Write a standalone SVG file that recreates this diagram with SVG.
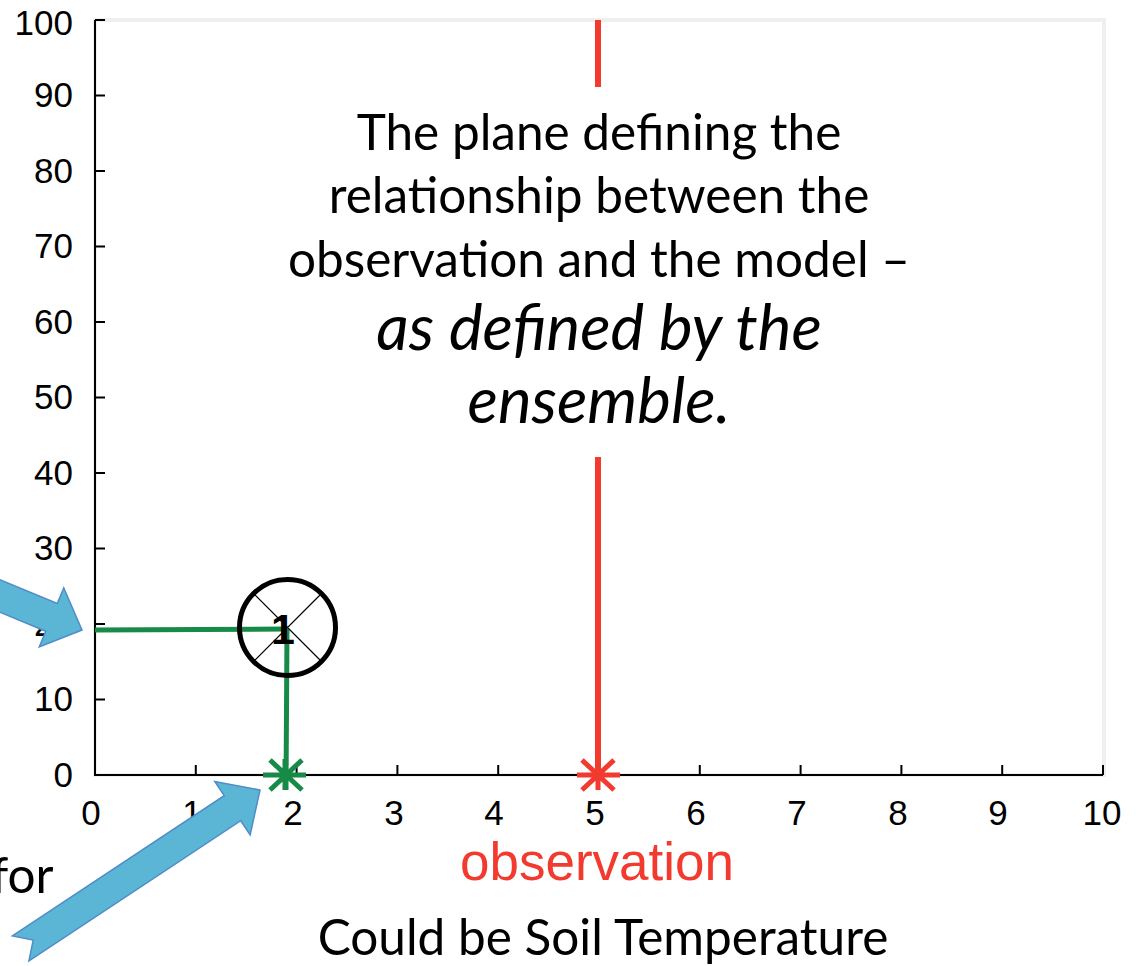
<svg xmlns="http://www.w3.org/2000/svg" width="1140" height="966" viewBox="0 0 1140 966">
<defs>
<style>
.tick{font-family:"Liberation Sans",Arial,sans-serif;font-size:35px;fill:#000}
.ty{text-anchor:end}
.tx{text-anchor:middle}
.cal{font-family:Lato,"Open Sans",sans-serif;fill:#000;text-anchor:middle}
.body{font-size:49.5px}
.ital{font-size:63.5px;font-style:italic}
.ax{stroke:#000;stroke-width:2;fill:none}
.frame{stroke:#efefef;stroke-width:4;fill:none}
.red{stroke:#f23a2f;stroke-width:6;fill:none}
.redast{stroke:#f23a2f;stroke-width:5;fill:none}
.grn{stroke:#178a47;stroke-width:5;fill:none}
.arrow{fill:#5bb6d5;stroke:#4f8cc9;stroke-width:1.5}
</style>
</defs>
<rect width="1140" height="966" fill="#fff"/>
<g id="plot">
<rect class="frame" x="95" y="20" width="1009" height="755"/>
<line class="ax" x1="95" y1="20" x2="95" y2="776"/>
<line class="ax" x1="94" y1="775" x2="1103" y2="775"/>
<path class="ax" d="M95 20h10M95 95.5h10M95 171h10M95 246.5h10M95 322h10M95 397.5h10M95 473h10M95 548.5h10M95 624h10M95 699.5h10M95 775h10"/>
<path class="ax" d="M195.8 775v-10M296.6 775v-10M397.4 775v-10M498.2 775v-10M599 775v-10M699.8 775v-10M800.6 775v-10M901.4 775v-10M1002.2 775v-10M1103 775v-10"/>
<g class="tick ty">
<text x="73" y="35">100</text>
<text x="73" y="107">90</text>
<text x="73" y="183">80</text>
<text x="73" y="258">70</text>
<text x="73" y="334">60</text>
<text x="73" y="409">50</text>
<text x="73" y="485">40</text>
<text x="73" y="560">30</text>
<text x="73" y="636">20</text>
<text x="73" y="711">10</text>
<text x="73" y="787">0</text>
</g>
<g class="tick tx">
<text x="91" y="825">0</text>
<text x="192" y="825">1</text>
<text x="293" y="825">2</text>
<text x="394" y="825">3</text>
<text x="494" y="825">4</text>
<text x="595" y="825">5</text>
<text x="696" y="825">6</text>
<text x="797" y="825">7</text>
<text x="898" y="825">8</text>
<text x="998" y="825">9</text>
<text x="1102" y="825">10</text>
</g>
</g>
<g id="connectors">
<line class="red" x1="598" y1="20" x2="598" y2="87"/>
<line class="red" x1="598" y1="457" x2="598" y2="775"/>
<line class="grn" x1="95" y1="630" x2="287" y2="629"/>
<line class="grn" x1="287" y1="629" x2="286" y2="790"/>
</g>
<g id="observation-point">
<path class="redast" d="M577 775h43M598 759v31M582 760l32 30M614 760l-32 30"/>
</g>
<g id="model-point">
<path class="grn" d="M263 775h43M285 759v31M270 760l32 30M302 760l-32 30"/>
</g>
<g id="ensemble-member">
<circle cx="287.5" cy="627.5" r="48" fill="none" stroke="#000" stroke-width="5"/>
<path d="M254 594l67 67M321 594l-67 67" stroke="#000" stroke-width="1.2"/>
<text x="283" y="644" font-family="Liberation Sans,Arial,sans-serif" font-weight="bold" font-size="43" text-anchor="middle">1</text>
</g>
<g id="caption">
<text class="cal body" x="599" y="150">The plane defining the</text>
<text class="cal body" x="599" y="213">relationship between the</text>
<text class="cal body" x="599" y="277">observation and the model –</text>
<text class="cal ital" x="599" y="350">as defined by the</text>
<text class="cal ital" x="599" y="423">ensemble.</text>
</g>
<g id="obs-label">
<text x="597" y="880" font-family="Liberation Sans,Arial,sans-serif" font-size="53" fill="#f23a2f" text-anchor="middle">observation</text>
</g>
<g id="axis-label">
<text class="cal body" x="603" y="955">Could be Soil Temperature</text>
</g>
<g id="for-label">
<text class="cal body" x="-9" y="893" style="text-anchor:start">for</text>
</g>
<g id="arrow-1">
<polygon class="arrow" transform="translate(82,630) rotate(22.5)" points="0,0 -33,-32 -33,-15 -220,-15 -205,0 -220,15 -33,15 -33,32"/>
</g>
<g id="arrow-2">
<polygon class="arrow" transform="translate(260,790) rotate(-33.5)" points="0,0 -33,-32 -33,-15 -287,-15 -272,0 -287,15 -33,15 -33,32"/>
</g>
</svg>
